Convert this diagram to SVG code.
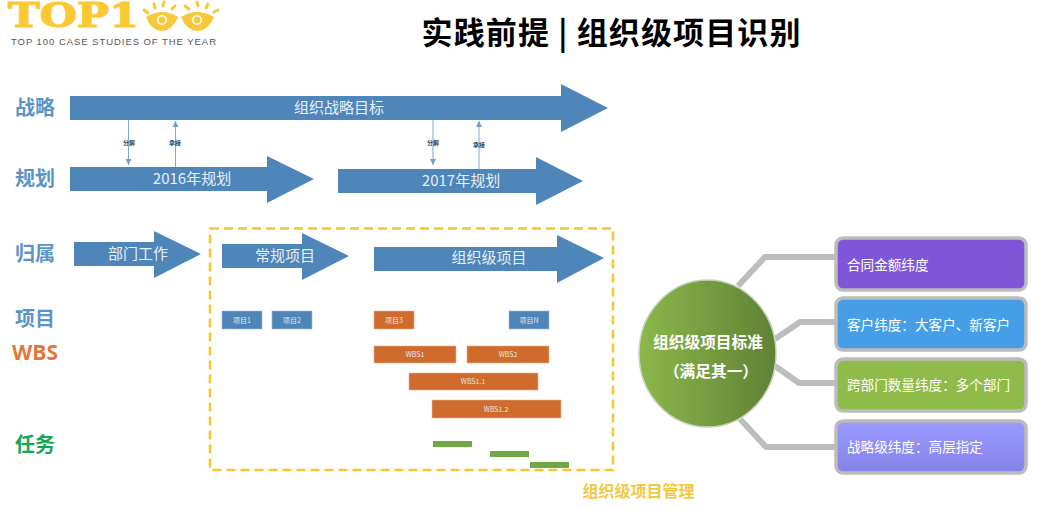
<svg xmlns="http://www.w3.org/2000/svg" width="1038" height="509" viewBox="0 0 1038 509">
<style>
text{font-family:"Noto Sans CJK SC","Liberation Sans",sans-serif}
.arrow{fill:#4f86b9}
.lab{font-size:20px;font-weight:700;fill:#5b93c9;text-anchor:middle}
.at{font-size:15px;fill:#e8eef5;text-anchor:middle}
.sm{font-size:6px;font-weight:700;fill:#2d3f50;text-anchor:middle}
.link{stroke:#7fa9d6;stroke-width:1;fill:none;marker-end:url(#tip)}
.p{fill:#4f86b9;stroke:#9dbbdb;stroke-width:.6}
.o{fill:#cf6c2d;stroke:#e9b08c;stroke-width:.6}
.pt{font-size:7px;fill:#e6e6e6;text-anchor:middle}
.g{fill:#6fa845}
.con{stroke:#bdbdbd;stroke-width:6;fill:none;stroke-linejoin:round}
.box{stroke:#bcbcbc;stroke-width:3.5}
.bt{font-size:13.600px;fill:#fff}
.ray{stroke:#f8c83c;stroke-width:3;stroke-linecap:round}
</style>
<defs>
<marker id="tip" markerWidth="8" markerHeight="8" refX="6" refY="3" orient="auto" markerUnits="userSpaceOnUse"><path d="M0 0L6 3L0 6Z" fill="#6f9fce"/></marker>
<linearGradient id="eg"><stop offset="0" stop-color="#8bb84a"/><stop offset="1" stop-color="#5f8236"/></linearGradient>
<linearGradient id="pg" x2="0" y2="1"><stop offset="0" stop-color="#9999ff"/><stop offset="1" stop-color="#8683e8"/></linearGradient>
</defs>
<rect width="1038" height="509" fill="#fff"/>
<g id="logo">
<text x="8" y="27" font-size="34" font-weight="700" fill="#fbc933" stroke="#fbc933" stroke-width="1.200" textLength="131" lengthAdjust="spacingAndGlyphs" style="font-family:'DejaVu Serif',serif">TOP1</text>
<text x="11" y="45" font-size="9.500" fill="#555" textLength="205" lengthAdjust="spacing" style="font-family:'Liberation Sans',sans-serif">TOP 100 CASE STUDIES OF THE YEAR</text>
<g fill="#f8c83c">
<path d="M146 17Q162 7 178 17Q172 31 161 31Q151 30 146 17Z"/>
<path d="M181 17Q197 7 214 17Q208 31 197 31Q186 30 181 17Z"/>
</g>
<circle cx="162" cy="20" r="5" fill="#fff"/><circle cx="197" cy="20" r="5" fill="#fff"/>
<circle cx="162" cy="20" r="3.500" fill="#f8c83c"/><circle cx="197" cy="20" r="3.500" fill="#f8c83c"/>
<path class="ray" d="M144 10L148 13M154 4L155 8M164 2L163 6M175 6L172 9M185 6L189 9M197 2L198 6M208 4L206 8M218 10L214 12"/>
</g>
<g id="title"><text x="611" y="44" font-size="31" font-weight="700" fill="#000" text-anchor="middle" textLength="379" lengthAdjust="spacing">实践前提 | 组织级项目识别</text></g>
<g id="row-labels">
<text class="lab" x="35" y="115">战略</text>
<text class="lab" x="35" y="186">规划</text>
<text class="lab" x="35" y="261">归属</text>
<text class="lab" x="35" y="326">项目</text>
<text x="35" y="360" font-size="21" font-weight="700" fill="#e2773a" text-anchor="middle" style="font-family:'Open Sans','Liberation Sans',sans-serif">WBS</text>
<text x="35" y="452" font-size="20" font-weight="700" fill="#12a853" text-anchor="middle">任务</text>
</g>
<g id="arrow-strategy"><path class="arrow" d="M70 96H561V84L608 108L561 132V120H70Z"/><text class="at" x="339" y="113">组织战略目标</text></g>
<g id="arrow-2016"><path class="arrow" d="M70 167H267V156L314 179L267 203V191H70Z"/><text class="at" x="192" y="184">2016年规划</text></g>
<g id="arrow-2017"><path class="arrow" d="M338 169H536V157L583 181L536 205V193H338Z"/><text class="at" x="461" y="186">2017年规划</text></g>
<g id="arrow-dept"><path class="arrow" d="M74 242H154V231L201 254L154 278V266H74Z"/><text class="at" x="138" y="259">部门工作</text></g>
<g id="arrow-regular"><path class="arrow" d="M222 244H302V233L349 256L302 280V268H222Z"/><text class="at" x="285" y="261">常规项目</text></g>
<g id="arrow-org"><path class="arrow" d="M374 247H557V235L604 258L557 283V271H374Z"/><text class="at" x="489" y="263">组织级项目</text></g>
<g id="connectors">
<path class="link" d="M128.500 120V165"/>
<path class="link" d="M175.500 167V121"/>
<path class="link" d="M433 120V165"/>
<path class="link" d="M479 169V121"/>
<path class="con" d="M738 286L765 257H836"/>
<path class="con" d="M775 339L800 322H836"/>
<path class="con" d="M775 366L799 383H836"/>
<path class="con" d="M740 419L766 447H836"/>
</g>
<g id="link-labels">
<text class="sm" x="129" y="145">分解</text>
<text class="sm" x="175" y="145">承接</text>
<text class="sm" x="433" y="145">分解</text>
<text class="sm" x="479" y="147">承接</text>
</g>
<g id="org-frame"><rect x="210" y="228.500" width="403" height="241.500" fill="none" stroke="#f6c52f" stroke-width="2.500" stroke-dasharray="9 5"/><text x="638.500" y="497" font-size="16" font-weight="700" fill="#f5c73d" text-anchor="middle">组织级项目管理</text></g>
<g id="p1"><rect class="p" x="222" y="311" width="40" height="18"/><text class="pt" x="242" y="323">项目1</text></g>
<g id="p2"><rect class="p" x="272" y="311" width="40" height="18"/><text class="pt" x="292" y="323">项目2</text></g>
<g id="p3"><rect class="o" x="374" y="311" width="40" height="18"/><text class="pt" x="394" y="323">项目3</text></g>
<g id="pn"><rect class="p" x="509" y="311" width="40" height="18"/><text class="pt" x="529" y="323">项目N</text></g>
<g id="wbs1"><rect class="o" x="374" y="346" width="82" height="17"/><text class="pt" x="415" y="357">WBS1</text></g>
<g id="wbs2"><rect class="o" x="467" y="346" width="82" height="17"/><text class="pt" x="508" y="357">WBS2</text></g>
<g id="wbs11"><rect class="o" x="409" y="373" width="129" height="17"/><text class="pt" x="473" y="384">WBS1.1</text></g>
<g id="wbs12"><rect class="o" x="432" y="400" width="129" height="18"/><text class="pt" x="496" y="412">WBS1.2</text></g>
<g id="t1"><rect class="g" x="433" y="441" width="39" height="6"/></g>
<g id="t2"><rect class="g" x="490" y="451" width="39" height="6"/></g>
<g id="t3"><rect class="g" x="530" y="462" width="39" height="6"/></g>
<g id="hub"><ellipse cx="707.500" cy="353.500" rx="68.500" ry="73.500" fill="url(#eg)" stroke="#c9d3bd" stroke-width="1.500"/>
<text x="708" y="348" font-size="15.700" font-weight="700" fill="#fff" text-anchor="middle">组织级项目标准</text>
<text x="711" y="377" font-size="15.700" font-weight="700" fill="#fff" text-anchor="middle">（满足其一）</text></g>
<g id="c1"><rect class="box" x="836" y="238" width="190" height="52" rx="7" fill="#8056d8"/><text class="bt" x="847" y="270">合同金额纬度</text></g>
<g id="c2"><rect class="box" x="836" y="298" width="190" height="52" rx="7" fill="#469fe6"/><text class="bt" x="847" y="330">客户纬度：大客户、新客户</text></g>
<g id="c3"><rect class="box" x="836" y="359" width="190" height="52" rx="7" fill="#8fbb4b"/><text class="bt" x="847" y="390">跨部门数量纬度：多个部门</text></g>
<g id="c4"><rect class="box" x="836" y="421" width="190" height="52" rx="7" fill="url(#pg)"/><text class="bt" x="847" y="452">战略级纬度：高层指定</text></g>
</svg>
